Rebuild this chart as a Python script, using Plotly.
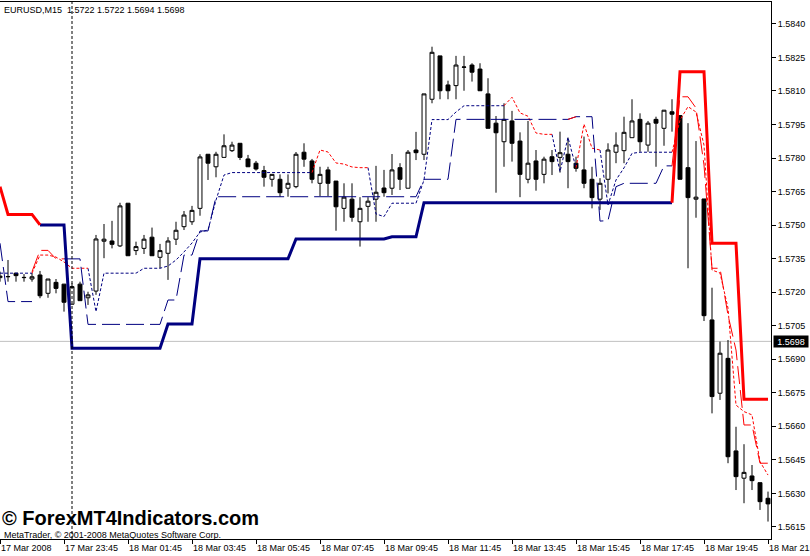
import plotly.graph_objects as go

N = None

# ---------------- data (bar index 0 = 17 Mar 2008 21:45, M15 bars) ----------------
BARS = list(range(97))

OPEN = [1.57265, 1.57269, 1.57285, 1.57265, 1.57259, 1.57277, 1.57195, 1.57244, 1.57236, 1.57146,
        1.57236, 1.57175, 1.57205, 1.57428, 1.57429, 1.57407, 1.57598, 1.57386, 1.57396, 1.57446,
        1.57356, 1.57374, 1.57437, 1.57493, 1.57515, 1.57575, 1.57817, 1.57761, 1.57803, 1.57833,
        1.57866, 1.57796, 1.57777, 1.57744, 1.57705, 1.57705, 1.57665, 1.57672, 1.57826, 1.57787,
        1.57687, 1.57747, 1.57697, 1.57575, 1.57616, 1.57515, 1.57584, 1.57616, 1.57666, 1.57665,
        1.57757, 1.57665, 1.57836, 1.57817, 1.58063, 1.58257, 1.58127, 1.58124, 1.58206, 1.58216,
        1.58198, 1.58087, 1.57956, 1.57873, 1.57966, 1.57876, 1.57705, 1.57787, 1.57727, 1.57806,
        1.57803, 1.57817, 1.57777, 1.57747, 1.57705, 1.57616, 1.57705, 1.57826, 1.57833, 1.57891,
        1.57973, 1.57858, 1.57973, 1.57933, 1.58007, 1.57990, 1.57757, 1.57616, 1.57617, 1.57076,
        1.56748, 1.56904, 1.56490, 1.56368, 1.56378, 1.56348, 1.56278]

HIGH = [1.57292, 1.57344, 1.57286, 1.57281, 1.57286, 1.57295, 1.57259, 1.57259, 1.57237, 1.57240,
        1.57247, 1.57202, 1.57456, 1.57505, 1.57519, 1.57600, 1.57598, 1.57426, 1.57456, 1.57489,
        1.57416, 1.57446, 1.57515, 1.57563, 1.57586, 1.57817, 1.57817, 1.57828, 1.57906, 1.57873,
        1.57866, 1.57814, 1.57787, 1.57765, 1.57727, 1.57727, 1.57727, 1.57827, 1.57866, 1.57796,
        1.57761, 1.57761, 1.57697, 1.57687, 1.57687, 1.57625, 1.57625, 1.57765, 1.57747, 1.57818,
        1.57777, 1.57836, 1.57917, 1.58087, 1.58298, 1.58257, 1.58146, 1.58257, 1.58257, 1.58224,
        1.58224, 1.58157, 1.57988, 1.58045, 1.58011, 1.57915, 1.57966, 1.57836, 1.57806, 1.57836,
        1.57918, 1.57891, 1.57806, 1.57896, 1.57761, 1.57710, 1.57866, 1.57915, 1.57985, 1.58063,
        1.58000, 1.57966, 1.57985, 1.58015, 1.58063, 1.57990, 1.57956, 1.57876, 1.57617, 1.57220,
        1.56979, 1.56986, 1.56598, 1.56520, 1.56427, 1.56348, 1.56308]

LOW = [1.57247, 1.57247, 1.57247, 1.57247, 1.57247, 1.57173, 1.57175, 1.57195, 1.57113, 1.57146,
       1.57161, 1.57143, 1.57188, 1.57352, 1.57396, 1.57402, 1.57363, 1.57366, 1.57371, 1.57363,
       1.57307, 1.57255, 1.57411, 1.57478, 1.57501, 1.57542, 1.57702, 1.57714, 1.57803, 1.57827,
       1.57791, 1.57761, 1.57744, 1.57672, 1.57672, 1.57627, 1.57627, 1.57665, 1.57761, 1.57687,
       1.57630, 1.57630, 1.57475, 1.57515, 1.57515, 1.57404, 1.57515, 1.57515, 1.57627, 1.57635,
       1.57657, 1.57665, 1.57791, 1.57791, 1.58045, 1.58063, 1.58063, 1.58063, 1.58101, 1.58142,
       1.58101, 1.57933, 1.57645, 1.57761, 1.57784, 1.57625, 1.57687, 1.57654, 1.57687, 1.57724,
       1.57735, 1.57665, 1.57739, 1.57665, 1.57575, 1.57568, 1.57642, 1.57777, 1.57777, 1.57891,
       1.57828, 1.57828, 1.57761, 1.57855, 1.57918, 1.57705, 1.57307, 1.57533, 1.57071, 1.56658,
       1.56718, 1.56435, 1.56315, 1.56256, 1.56315, 1.56226, 1.56174]

CLOSE = [1.57272, 1.57270, 1.57274, 1.57266, 1.57269, 1.57184, 1.57259, 1.57217, 1.57155, 1.57225,
         1.57162, 1.57188, 1.57438, 1.57437, 1.57414, 1.57586, 1.57363, 1.57404, 1.57437, 1.57363,
         1.57386, 1.57429, 1.57477, 1.57545, 1.57566, 1.57805, 1.57777, 1.57817, 1.57855, 1.57858,
         1.57803, 1.57761, 1.57751, 1.57714, 1.57727, 1.57645, 1.57687, 1.57817, 1.57795, 1.57705,
         1.57727, 1.57687, 1.57582, 1.57625, 1.57535, 1.57575, 1.57607, 1.57647, 1.57645, 1.57747,
         1.57705, 1.57826, 1.57824, 1.58087, 1.58273, 1.58101, 1.58101, 1.58216, 1.58207, 1.58184,
         1.58101, 1.57933, 1.57913, 1.57973, 1.57866, 1.57727, 1.57777, 1.57705, 1.57795, 1.57784,
         1.57824, 1.57784, 1.57754, 1.57687, 1.57623, 1.57687, 1.57836, 1.57858, 1.57915, 1.57966,
         1.57873, 1.57956, 1.57956, 1.58014, 1.57996, 1.57705, 1.57623, 1.57625, 1.57095, 1.56733,
         1.56927, 1.56464, 1.56375, 1.56394, 1.56357, 1.56263, 1.56253]

# trailing-stop indicator: slow (thick), medium (long dash), fast (dotted); up = blue, down = red
SLOW_UP = [N, N, N, N, N, 1.57501, 1.57501, 1.57501, 1.57501, 1.56949,
           1.56949, 1.56949, 1.56949, 1.56949, 1.56949, 1.56949, 1.56949, 1.56949, 1.56949, 1.56949,
           1.56949, 1.57058, 1.57058, 1.57058, 1.57058, 1.57349, 1.57349, 1.57349, 1.57349, 1.57349,
           1.57349, 1.57349, 1.57349, 1.57349, 1.57349, 1.57349, 1.57349, 1.57438, 1.57438, 1.57438,
           1.57438, 1.57438, 1.57438, 1.57438, 1.57438, 1.57438, 1.57438, 1.57438, 1.57438, 1.57448,
           1.57448, 1.57448, 1.57448, 1.57600, 1.57600, 1.57600, 1.57600, 1.57600, 1.57600, 1.57600,
           1.57600, 1.57600, 1.57600, 1.57600, 1.57600, 1.57600, 1.57600, 1.57600, 1.57600, 1.57600,
           1.57600, 1.57600, 1.57600, 1.57600, 1.57600, 1.57600, 1.57600, 1.57600, 1.57600, 1.57600,
           1.57600, 1.57600, 1.57600, 1.57600, 1.57600, N, N, N, N, N,
           N, N, N, N, N, N, N]

SLOW_DN = [1.57672, 1.57548, 1.57548, 1.57548, 1.57548, 1.57501, N, N, N, N,
           N, N, N, N, N, N, N, N, N, N,
           N, N, N, N, N, N, N, N, N, N,
           N, N, N, N, N, N, N, N, N, N,
           N, N, N, N, N, N, N, N, N, N,
           N, N, N, N, N, N, N, N, N, N,
           N, N, N, N, N, N, N, N, N, N,
           N, N, N, N, N, N, N, N, N, N,
           N, N, N, N, 1.57600, 1.58186, 1.58186, 1.58186, 1.58186, 1.57419,
           1.57419, 1.57419, 1.57419, 1.56721, 1.56721, 1.56721, 1.56721]

MID_UP = [1.57419, 1.57158, 1.57158, 1.57158, 1.57158, N, N, N, 1.57349, 1.57349,
          1.57349, 1.57056, 1.57056, 1.57056, 1.57056, 1.57056, 1.57056, 1.57056, 1.57056, 1.57056,
          1.57056, 1.57165, 1.57165, 1.57366, 1.57366, 1.57474, 1.57474, 1.57627, 1.57627, 1.57627,
          1.57627, 1.57627, 1.57627, 1.57627, 1.57627, 1.57627, 1.57627, 1.57627, 1.57627, 1.57627,
          1.57627, 1.57627, 1.57627, 1.57627, 1.57627, 1.57627, 1.57627, 1.57627, 1.57627, 1.57627,
          1.57627, 1.57627, 1.57627, 1.57705, 1.57705, 1.57705, 1.57705, 1.57973, 1.57973, 1.57973,
          1.57973, 1.57973, 1.57973, 1.57973, 1.57973, 1.57973, 1.57973, 1.57973, 1.57973, 1.57973,
          1.57973, 1.57973, 1.57985, 1.57985, 1.57985, 1.57518, 1.57520, 1.57672, 1.57687, 1.57687,
          1.57687, 1.57687, 1.57687, 1.57765, 1.57765, N, N, N, N, N,
          N, N, N, N, N, N, N]

MID_DN = [N, N, N, N, 1.57292, 1.57387, 1.57387, 1.57349, 1.57349, N,
          N, N, N, N, N, N, N, N, N, N,
          N, N, N, N, N, N, N, N, N, N,
          N, N, N, N, N, N, N, N, N, N,
          N, N, N, N, N, N, N, N, N, N,
          N, N, N, N, N, N, N, N, N, N,
          N, N, N, N, N, N, N, N, N, N,
          N, 1.57973, 1.57985, N, N, N, N, N, N, N,
          N, N, N, N, 1.57765, 1.58074, 1.58074, 1.58024, 1.57769, 1.57307,
          1.57307, 1.57098, 1.56941, 1.56606, 1.56606, 1.56435, 1.56435]

FAST_UP = [1.57285, 1.57285, 1.57285, 1.57285, 1.57285, N, N, N, N, N,
           N, 1.57307, 1.57113, 1.57285, 1.57285, 1.57285, 1.57285, 1.57285, 1.57307, 1.57307,
           1.57307, 1.57317, 1.57344, 1.57380, 1.57420, 1.57469, 1.57478, 1.57612, 1.57724, 1.57735,
           1.57735, 1.57735, 1.57735, 1.57735, 1.57735, 1.57735, 1.57735, 1.57735, 1.57735, 1.57735,
           N, N, N, N, N, N, 1.57757, 1.57550, 1.57538, 1.57598,
           1.57598, 1.57598, 1.57598, 1.57702, 1.57972, 1.57972, 1.57972, 1.58006, 1.58034, 1.58034,
           1.58034, 1.58034, 1.58034, 1.58034, N, N, N, N, N, 1.57906,
           1.57739, 1.57892, 1.57756, N, N, 1.57836, 1.57590, 1.57702, 1.57756, 1.57821,
           1.57826, 1.57826, 1.57826, 1.57826, 1.57826, N, N, N, N, N,
           N, N, N, N, N, N, N]

FAST_DN = [N, N, N, N, 1.57285, 1.57366, 1.57366, 1.57357, 1.57335, 1.57307,
           1.57307, 1.57307, N, N, N, N, N, N, N, N,
           N, N, N, N, N, N, N, N, N, N,
           N, N, N, N, N, N, N, N, N, 1.57735,
           1.57836, 1.57827, 1.57778, 1.57773, 1.57760, 1.57757, 1.57757, N, N, N,
           N, N, N, N, N, N, N, N, N, N,
           N, N, N, 1.58034, 1.58072, 1.58002, 1.57987, 1.57912, 1.57906, 1.57906,
           N, N, 1.57756, 1.57952, 1.57844, 1.57836, N, N, N, N,
           N, N, N, N, 1.57826, 1.57970, 1.58030, 1.58006, 1.57858, 1.57299,
           1.57286, 1.57129, 1.56695, 1.56666, 1.56651, 1.56442, 1.56382]

TICK_BARS = [0, 8, 16, 24, 32, 40, 48, 56, 64, 72, 80, 88, 96]
TICK_TEXT = ["17 Mar 2008", "17 Mar 23:45", "18 Mar 01:45", "18 Mar 03:45", "18 Mar 05:45",
             "18 Mar 07:45", "18 Mar 09:45", "18 Mar 11:45", "18 Mar 13:45", "18 Mar 15:45",
             "18 Mar 17:45", "18 Mar 19:45", "18 Mar 21:45"]
PRICE_TICKS = [1.5615, 1.5630, 1.5645, 1.5660, 1.5675, 1.5690, 1.5705, 1.5720,
               1.5735, 1.5750, 1.5765, 1.5780, 1.5795, 1.5810, 1.5825, 1.5840]
BID = 1.5698
DAY_SEPARATOR_BAR = 9
HEADER = "EURUSD,M15\u00a0\u00a01.5722 1.5722 1.5694 1.5698"

for arr in (OPEN, HIGH, LOW, CLOSE, SLOW_UP, SLOW_DN, MID_UP, MID_DN, FAST_UP, FAST_DN):
    assert len(arr) == len(BARS), len(arr)

# ---------------- styles ----------------
NAVY = "#000080"
RED = "#FF0000"
FONT = "Liberation Sans"

fig = go.Figure()
fig.add_trace(go.Candlestick(
    x=BARS, open=OPEN, high=HIGH, low=LOW, close=CLOSE,
    increasing=dict(line=dict(color="black", width=1), fillcolor="white"),
    decreasing=dict(line=dict(color="black", width=1), fillcolor="black"),
    whiskerwidth=0, showlegend=False, hoverinfo="skip"))

def add_line(y, color, width, dash):
    fig.add_trace(go.Scatter(x=BARS, y=y, mode="lines", connectgaps=False,
                             line=dict(color=color, width=width, dash=dash),
                             showlegend=False, hoverinfo="skip"))

add_line(FAST_UP, NAVY, 1, "3px,2px")
add_line(FAST_DN, RED, 1, "3px,2px")
add_line(MID_UP, NAVY, 1, "18px,6px")
add_line(MID_DN, RED, 1, "18px,6px")
add_line(SLOW_UP, NAVY, 3, "solid")
add_line(SLOW_DN, RED, 3, "solid")

fig.update_layout(
    width=810, height=556,
    margin=dict(l=0, r=39, t=2, b=17, pad=0),
    paper_bgcolor="white", plot_bgcolor="white", showlegend=False,
    font=dict(family=FONT, size=9, color="black"),
    xaxis=dict(range=[0, 96.375], rangeslider=dict(visible=False),
               tickmode="array", tickvals=TICK_BARS, ticktext=TICK_TEXT,
               ticks="outside", ticklen=4, tickcolor="black", tickwidth=1,
               ticklabelposition="outside right", ticklabeloverflow="allow",
               showgrid=False, zeroline=False, showline=True, linecolor="black",
               linewidth=1, mirror=True, automargin=False,
               tickfont=dict(family=FONT, size=9, color="black")),
    yaxis=dict(range=[1.56096, 1.58498], side="right",
               tickmode="array", tickvals=PRICE_TICKS,
               ticktext=[f"{v:.4f}" for v in PRICE_TICKS],
               ticks="outside", ticklen=4, tickcolor="black", tickwidth=1,
               showgrid=False, zeroline=False, showline=True, linecolor="black",
               linewidth=1, automargin=False, ticklabeloverflow="allow",
               tickfont=dict(family=FONT, size=9, color="black")),
    shapes=[
        dict(type="line", xref="paper", yref="y", x0=0, x1=1, y0=BID, y1=BID,
             line=dict(color="#C0C0C0", width=1), layer="below"),
        dict(type="line", xref="x", yref="paper", x0=DAY_SEPARATOR_BAR, x1=DAY_SEPARATOR_BAR,
             y0=0, y1=1, line=dict(color="black", width=1, dash="3px,2px")),
    ],
    annotations=[
        dict(text=HEADER, xref="paper", yref="paper", x=0.002, y=0.986,
             xanchor="left", yanchor="middle", showarrow=False,
             font=dict(family=FONT, size=9, color="black")),
        dict(text="<b>\u00a9 ForexMT4Indicators.com</b>", xref="paper", yref="paper",
             x=0.0, y=0.039, xanchor="left", yanchor="middle", showarrow=False,
             font=dict(family=FONT, size=20, color="black")),
        dict(text="MetaTrader, \u00a9 2001-2008 MetaQuotes Software Corp.", xref="paper",
             yref="paper", x=0.002, y=0.008, xanchor="left", yanchor="middle",
             showarrow=False, font=dict(family=FONT, size=9, color="black")),
        dict(text=f"{BID:.4f}", xref="paper", yref="y", x=1, y=BID, xanchor="left",
             yanchor="middle", xshift=2, showarrow=False, bgcolor="black",
             width=34, height=11, borderpad=0,
             font=dict(family=FONT, size=9, color="white")),
    ],
)

fig.write_html("out.html", config={"displayModeBar": False},
               post_script="document.body.style.margin='0px';document.body.style.overflow='hidden';")
